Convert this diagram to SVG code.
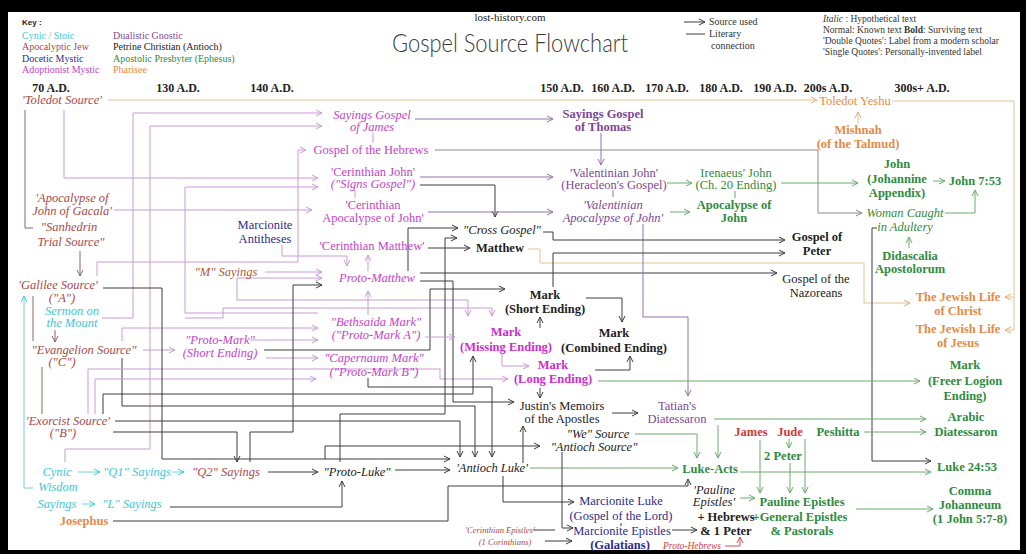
<svg xmlns="http://www.w3.org/2000/svg" width="1026" height="554" viewBox="0 0 1026 554">
<style>
.n{font-family:"Liberation Serif",serif;font-size:12.5px;text-anchor:middle}
.s{font-family:"Liberation Serif",serif;font-size:10px}
.yr{font-family:"Liberation Serif",serif;font-size:12px;font-weight:bold;text-anchor:middle;fill:#222}
.i{font-style:italic}.b{font-weight:bold}
.cy{fill:#40c6d6}.ap{fill:#a84848}.dc{fill:#2c2c8c}.ad{fill:#c244c6}.dg{fill:#7d4796}.pc{fill:#222}.gr{fill:#2e8b3e}.ph{fill:#e38a46}.rd{fill:#d03838}.mg{fill:#cc2ecc}.br{fill:#b05a3a}
.k{stroke:#3c3c3c}.p{stroke:#c99ad6}.t{stroke:#e6c196}.g{stroke:#6aaa6a}.c{stroke:#6ad2e0}.v{stroke:#9470aa}.y{stroke:#8a8a8a}.r{stroke:#cc5050}.bb{stroke:#8c6464}
</style>
<defs>
<marker id="ak" viewBox="0 0 8 8" refX="7" refY="4" markerWidth="8" markerHeight="8" markerUnits="userSpaceOnUse" orient="auto"><path d="M1,1 L7,4 L1,7" fill="none" stroke="#3c3c3c"/></marker>
<marker id="ap" viewBox="0 0 8 8" refX="7" refY="4" markerWidth="8" markerHeight="8" markerUnits="userSpaceOnUse" orient="auto"><path d="M1,1 L7,4 L1,7" fill="none" stroke="#c99ad6"/></marker>
<marker id="at" viewBox="0 0 8 8" refX="7" refY="4" markerWidth="8" markerHeight="8" markerUnits="userSpaceOnUse" orient="auto"><path d="M1,1 L7,4 L1,7" fill="none" stroke="#e6a870"/></marker>
<marker id="ag" viewBox="0 0 8 8" refX="7" refY="4" markerWidth="8" markerHeight="8" markerUnits="userSpaceOnUse" orient="auto"><path d="M1,1 L7,4 L1,7" fill="none" stroke="#6aaa6a"/></marker>
<marker id="ac" viewBox="0 0 8 8" refX="7" refY="4" markerWidth="8" markerHeight="8" markerUnits="userSpaceOnUse" orient="auto"><path d="M1,1 L7,4 L1,7" fill="none" stroke="#40c6d6"/></marker>
<marker id="av" viewBox="0 0 8 8" refX="7" refY="4" markerWidth="8" markerHeight="8" markerUnits="userSpaceOnUse" orient="auto"><path d="M1,1 L7,4 L1,7" fill="none" stroke="#9470aa"/></marker>
<marker id="ay" viewBox="0 0 8 8" refX="7" refY="4" markerWidth="8" markerHeight="8" markerUnits="userSpaceOnUse" orient="auto"><path d="M1,1 L7,4 L1,7" fill="none" stroke="#8a8a8a"/></marker>
<marker id="ar" viewBox="0 0 8 8" refX="7" refY="4" markerWidth="8" markerHeight="8" markerUnits="userSpaceOnUse" orient="auto"><path d="M1,1 L7,4 L1,7" fill="none" stroke="#cc5050"/></marker>
<marker id="ab" viewBox="0 0 8 8" refX="7" refY="4" markerWidth="8" markerHeight="8" markerUnits="userSpaceOnUse" orient="auto"><path d="M1,1 L7,4 L1,7" fill="none" stroke="#8c6464"/></marker>
</defs>
<rect x="0" y="0" width="1026" height="554" fill="#000"/>
<rect x="8" y="12" width="1012" height="538" fill="#fff"/>

<g id="header">
<text x="22" y="25" style="font-family:'Liberation Sans',sans-serif;font-size:8px;font-weight:bold" fill="#222">Key :</text>
<text x="22" y="38.5" class="s cy">Cynic / Stoic</text>
<text x="22" y="50" class="s ap">Apocalyptic Jew</text>
<text x="22" y="61.5" class="s dc">Docetic Mystic</text>
<text x="22" y="73" class="s ad">Adoptionist Mystic</text>
<text x="113" y="38.5" class="s dg">Dualistic Gnostic</text>
<text x="113" y="50" class="s pc">Petrine Christian (Antioch)</text>
<text x="113" y="61.5" class="s gr">Apostolic Presbyter (Ephesus)</text>
<text x="113" y="73" class="s ph">Pharisee</text>
<text x="510" y="21" class="s" style="font-size:11px;text-anchor:middle" fill="#222">lost-history.com</text>
<text x="510" y="52" style="font-family:Lato,'Open Sans',sans-serif;font-weight:300;font-size:25px;text-anchor:middle" textLength="236" lengthAdjust="spacingAndGlyphs" fill="#3a3a3a">Gospel Source Flowchart</text>
<text x="709" y="25" class="s" fill="#333">Source used</text>
<text x="709" y="37" class="s" fill="#333">Literary</text>
<text x="711" y="49" class="s" fill="#333">connection</text>
<g style="font-size:9.5px">
<text x="823" y="22" class="s" style="font-size:9.5px" fill="#333"><tspan font-style="italic">Italic</tspan> : Hypothetical text</text>
<text x="823" y="33" class="s" style="font-size:9.5px" fill="#333">Normal: Known text  <tspan font-weight="bold">Bold</tspan>: Surviving text</text>
<text x="823" y="44" class="s" style="font-size:9.5px" fill="#333">'Double Quotes': Label from a modern scholar</text>
<text x="823" y="55" class="s" style="font-size:9.5px" fill="#333">'Single Quotes': Personally-invented label</text>
</g>
<text x="51" y="92" class="yr">70 A.D.</text>
<text x="178" y="92" class="yr">130 A.D.</text>
<text x="272" y="92" class="yr">140 A.D.</text>
<text x="562" y="92" class="yr">150 A.D.</text>
<text x="613" y="92" class="yr">160 A.D.</text>
<text x="667" y="92" class="yr">170 A.D.</text>
<text x="721" y="92" class="yr">180 A.D.</text>
<text x="775" y="92" class="yr">190 A.D.</text>
<text x="828" y="92" class="yr">200s A.D.</text>
<text x="922" y="92" class="yr">300s+ A.D.</text>
</g>

<g id="connectors" fill="none" stroke-width="1">
<path class="k" d="M684,22 H705" marker-end="url(#ak)"/>
<path class="k" d="M686,34 H705"/>
<path class="t" d="M108,100 H817" marker-end="url(#at)"/>
<path class="t" d="M892,101 H1014 V297 H1005" marker-end="url(#at)"/>
<path class="t" d="M1014,297 V330 H1005" marker-end="url(#at)"/>
<path class="t" d="M858,124 V112" marker-end="url(#at)"/>
<path class="t" d="M528,249 H540 V263 H864 V303 H910" marker-end="url(#at)"/>
<path class="bb" d="M25,110 V228 H33"/>
<path class="bb" d="M80,251 V276" marker-end="url(#ab)"/>
<path class="c" d="M24,488 V296" marker-end="url(#ac)"/>
<path class="c" d="M24,488 H33"/>
<path class="bb" d="M33,296 V341"/>
<path class="bb" d="M55,330 V342" marker-end="url(#ab)"/>
<path class="bb" d="M42,367 V414"/>
<path class="p" d="M143,350 H175" marker-end="url(#ap)"/>
<path class="p" d="M102,318 H133 V113 H322" marker-end="url(#ap)"/>
<path class="p" d="M65,462 V449 H150 V126 H322" marker-end="url(#ap)"/>
<path class="p" d="M64,110 V178 H318" marker-end="url(#ap)"/>
<path class="p" d="M318,313 H185 V187 H318" marker-end="url(#ap)"/>
<path class="p" d="M114,210 H312" marker-end="url(#ap)"/>
<path class="p" d="M97,276 V262 H298 V150 H306" marker-end="url(#ap)"/>
<path class="p" d="M282,245 V256 H347 V266" marker-end="url(#ap)"/>
<path class="p" d="M265,272 H322" marker-end="url(#ap)"/>
<path class="p" d="M237,300 V278 H322" marker-end="url(#ap)"/>
<path class="p" d="M237,300 H468 V316" marker-end="url(#ap)"/>
<path class="p" d="M185,318 H223 V308 H492 V316" marker-end="url(#ap)"/>
<path class="p" d="M122,341 V328 H318" marker-end="url(#ap)"/>
<path class="k" d="M122,358 V406 H475 V457" marker-end="url(#ak)"/>
<path class="p" d="M250,340 H318" marker-end="url(#ap)"/>
<path class="p" d="M266,358 H318" marker-end="url(#ap)"/>
<path class="k" d="M264,350 H430 V289 H505" marker-end="url(#ak)"/>
<path class="p" d="M88,414 V369 H440 V379 H508" marker-end="url(#ap)"/>
<path class="p" d="M95,414 V379 H316" marker-end="url(#ap)"/>
<path class="k" d="M103,414 V394 H473 V356" marker-end="url(#ak)"/>
<path class="k" d="M115,421 H460 V457" marker-end="url(#ak)"/>
<path class="k" d="M113,432 H237 V462" marker-end="url(#ak)"/>
<path class="k" d="M250,462 V432 H293 V285 H322" marker-end="url(#ak)"/>
<path class="k" d="M103,288 H162 V459 H450" marker-end="url(#ak)"/>
<path class="k" d="M325,459 V446 H540" marker-end="url(#ak)"/>
<path class="c" d="M78,472 H100" marker-end="url(#ac)"/>
<path class="c" d="M172,472 H184" marker-end="url(#ac)"/>
<path class="k" d="M268,472 H318" marker-end="url(#ak)"/>
<path class="k" d="M395,470 H450" marker-end="url(#ak)"/>
<path class="c" d="M82,504 H95" marker-end="url(#ac)"/>
<path class="k" d="M170,507 H342 V481" marker-end="url(#ak)"/>
<path class="k" d="M113,521 H448 V486 H688 V479" marker-end="url(#ak)"/>
<path class="k" d="M340,462 V414 H445 V238 H457" marker-end="url(#ak)"/>
<path class="k" d="M408,271 V228 H458" marker-end="url(#ak)"/>
<path class="k" d="M368,378 V387 H492 V457" marker-end="url(#ak)"/>
<path class="k" d="M420,281 H453 V402 H514" marker-end="url(#ak)"/>
<path class="k" d="M420,273 H777" marker-end="url(#ak)"/>
<path class="p" d="M368,271 V255" marker-end="url(#ap)"/>
<path class="p" d="M368,315 V291" marker-end="url(#ap)"/>
<path class="p" d="M425,337 H455" marker-end="url(#ap)"/>
<path class="k" d="M428,248 H470" marker-end="url(#ak)"/>
<path class="p" d="M373,133 V143"/>
<path class="p" d="M355,190 V198"/>
<path class="v" d="M415,119 H553" marker-end="url(#av)"/>
<path class="v" d="M601,133 V165" marker-end="url(#av)"/>
<path class="v" d="M420,177 H553" marker-end="url(#av)"/>
<path class="k" d="M420,185 H495 V217" marker-end="url(#ak)"/>
<path class="v" d="M428,212 H553" marker-end="url(#av)"/>
<path class="v" d="M613,190 V197"/>
<path class="v" d="M643,224 V317 H688 V396" marker-end="url(#av)"/>
<path class="y" d="M435,150 H818 V213 H862" marker-end="url(#ay)"/>
<path class="g" d="M667,183 H692" marker-end="url(#ag)"/>
<path class="g" d="M735,191 V198"/>
<path class="g" d="M670,212 H690" marker-end="url(#ag)"/>
<path class="g" d="M781,183 H858" marker-end="url(#ag)"/>
<path class="g" d="M933,181 H945" marker-end="url(#ag)"/>
<path class="g" d="M945,213 H975 V190" marker-end="url(#ag)"/>
<path class="g" d="M909,248 V237" marker-end="url(#ag)"/>
<path class="k" d="M877,228 H872 V461 H931" marker-end="url(#ak)"/>
<path class="k" d="M543,232 H553 V240 H785" marker-end="url(#ak)"/>
<path class="k" d="M553,287 V253 H785" marker-end="url(#ak)"/>
<path class="k" d="M540,328 V317" marker-end="url(#ak)"/>
<path class="k" d="M586,298 H622 V322" marker-end="url(#ak)"/>
<path class="k" d="M595,370 H630 V356" marker-end="url(#ak)"/>
<path class="p" d="M502,354 V366 H529" marker-end="url(#ap)"/>
<path class="g" d="M598,381 H920" marker-end="url(#ag)"/>
<path class="k" d="M540,388 V398" marker-end="url(#ak)"/>
<path class="k" d="M523,463 V426" marker-end="url(#ak)"/>
<path class="k" d="M612,413 H638" marker-end="url(#ak)"/>
<path class="g" d="M714,419 H926" marker-end="url(#ag)"/>
<path class="g" d="M530,468 H678" marker-end="url(#ag)"/>
<path class="g" d="M635,434 H697 V458" marker-end="url(#ag)"/>
<path class="g" d="M718,425 V458" marker-end="url(#ag)"/>
<path class="k" d="M562,452 V528 H573" marker-end="url(#ak)"/>
<path class="k" d="M503,476 V502 H574" marker-end="url(#ak)"/>
<path class="k" d="M621,523 V526"/>
<path class="k" d="M533,530 H555"/>
<path class="k" d="M545,541 H572" marker-end="url(#ak)"/>
<path class="k" d="M672,530 H697" marker-end="url(#ak)"/>
<path class="r" d="M725,546 H740 V537" marker-end="url(#ar)"/>
<path class="g" d="M740,498 H755" marker-end="url(#ag)"/>
<path class="g" d="M760,440 V493" marker-end="url(#ag)"/>
<path class="g" d="M789,439 V448" marker-end="url(#ag)"/>
<path class="g" d="M790,463 V493" marker-end="url(#ag)"/>
<path class="g" d="M805,439 V493" marker-end="url(#ag)"/>
<path class="g" d="M740,472 H931" marker-end="url(#ag)"/>
<path class="g" d="M864,432 H926" marker-end="url(#ag)"/>
<path class="g" d="M856,509 H933" marker-end="url(#ag)"/>
</g>

<g id="n-toledot-source"><text x="62" y="104" class="n i ap">'Toledot Source'</text></g>
<g id="n-gacala"><text x="72" y="202" class="n i ap">'Apocalypse of</text><text x="72" y="215" class="n i ap">John of Gacala'</text></g>
<g id="n-sanhedrin"><text x="69" y="231" class="n i ap">"Sanhedrin</text><text x="71" y="246" class="n i ap">Trial Source"</text></g>
<g id="n-galilee"><text x="58" y="289" class="n i ap">'Galilee Source'</text><text x="62" y="302" class="n i ap">("A")</text></g>
<g id="n-sermon"><text x="72" y="315" class="n i cy">Sermon on</text><text x="72" y="327" class="n i cy">the Mount</text></g>
<g id="n-evangelion"><text x="84" y="354" class="n i ap">"Evangelion Source"</text><text x="62" y="366" class="n i ap">("C")</text></g>
<g id="n-exorcist"><text x="68" y="425" class="n i ap">'Exorcist Source'</text><text x="63" y="437" class="n i ap">("B")</text></g>
<g id="n-cynic-wisdom"><text x="57" y="476" class="n i cy">Cynic</text><text x="58" y="491" class="n i cy">Wisdom</text><text x="57" y="508" class="n i cy">Sayings</text></g>
<g id="n-josephus"><text x="84" y="525" class="n b ph">Josephus</text></g>
<g id="n-q1"><text x="137" y="476" class="n i cy">"Q1" Sayings</text></g>
<g id="n-q2"><text x="226" y="476" class="n i ap">"Q2" Sayings</text></g>
<g id="n-l"><text x="132" y="508" class="n i cy">"L" Sayings</text></g>
<g id="n-proto-luke"><text x="357" y="476" class="n i pc">"Proto-Luke"</text></g>
<g id="n-antioch-luke"><text x="492" y="472" class="n i pc">'Antioch Luke'</text></g>
<g id="n-proto-mark"><text x="220" y="344" class="n i ad">"Proto-Mark"</text><text x="220" y="357" class="n i ad">(Short Ending)</text></g>
<g id="n-sayings-james"><text x="372" y="119" class="n i ad">Sayings Gospel</text><text x="372" y="131" class="n i ad">of James</text></g>
<g id="n-hebrews"><text x="371" y="154" class="n ad">Gospel of the Hebrews</text></g>
<g id="n-cerinthian-john"><text x="373" y="176" class="n ad">'Cerinthian John'</text><text x="373" y="188" class="n i ad">("Signs Gospel")</text></g>
<g id="n-cerinthian-apoc"><text x="373" y="209" class="n ad">'Cerinthian</text><text x="373" y="222" class="n ad">Apocalypse of John'</text></g>
<g id="n-marcionite-antitheses"><text x="265" y="229" class="n dc">Marcionite</text><text x="265" y="243" class="n dc">Antitheses</text></g>
<g id="n-cerinthian-matthew"><text x="372" y="250" class="n ad">'Cerinthian Matthew'</text></g>
<g id="n-m-sayings"><text x="226" y="276" class="n i br">"M" Sayings</text></g>
<g id="n-proto-matthew"><text x="377" y="282" class="n i ad">Proto-Matthew</text></g>
<g id="n-bethsaida"><text x="376" y="326" class="n i ad">"Bethsaida Mark"</text><text x="376" y="339" class="n i ad">("Proto-Mark A")</text></g>
<g id="n-capernaum"><text x="374" y="362" class="n i ad">"Capernaum Mark"</text><text x="374" y="376" class="n i ad">("Proto-Mark B")</text></g>
<g id="n-thomas"><text x="603" y="118" class="n b dg">Sayings Gospel</text><text x="603" y="131" class="n b dg">of Thomas</text></g>
<g id="n-valentinian-john"><text x="614" y="177" class="n dg">'Valentinian John'</text><text x="614" y="189" class="n dg">(Heracleon's Gospel)</text></g>
<g id="n-valentinian-apoc"><text x="613" y="209" class="n i dg">'Valentinian</text><text x="613" y="222" class="n i dg">Apocalypse of John'</text></g>
<g id="n-irenaeus"><text x="736" y="177" class="n gr">Irenaeus' John</text><text x="736" y="189" class="n gr">(Ch. 20 Ending)</text></g>
<g id="n-apocalypse-john"><text x="734" y="209" class="n b gr">Apocalypse of</text><text x="734" y="222" class="n b gr">John</text></g>
<g id="n-toledot-yeshu"><text x="855" y="105" class="n ph">Toledot Yeshu</text></g>
<g id="n-mishnah"><text x="858" y="134" class="n b ph">Mishnah</text><text x="858" y="148" class="n b ph">(of the Talmud)</text></g>
<g id="n-john-appendix"><text x="897" y="168" class="n b gr">John</text><text x="897" y="183" class="n b gr">(Johannine</text><text x="897" y="197" class="n b gr">Appendix)</text></g>
<g id="n-john-753"><text x="975" y="185" class="n b gr">John 7:53</text></g>
<g id="n-woman"><text x="905" y="217" class="n i gr">Woman Caught</text><text x="905" y="231" class="n i gr">in Adultery</text></g>
<g id="n-didascalia"><text x="910" y="260" class="n b gr">Didascalia</text><text x="910" y="273" class="n b gr">Apostolorum</text></g>
<g id="n-jewish-christ"><text x="958" y="301" class="n b ph">The Jewish Life</text><text x="958" y="315" class="n b ph">of Christ</text></g>
<g id="n-jewish-jesus"><text x="958" y="333" class="n b ph">The Jewish Life</text><text x="958" y="347" class="n b ph">of Jesus</text></g>
<g id="n-peter"><text x="817" y="241" class="n b pc">Gospel of</text><text x="817" y="255" class="n b pc">Peter</text></g>
<g id="n-nazoreans"><text x="816" y="283" class="n pc">Gospel of the</text><text x="816" y="297" class="n pc">Nazoreans</text></g>
<g id="n-cross"><text x="502" y="234" class="n i pc">"Cross Gospel"</text></g>
<g id="n-matthew"><text x="500" y="252" class="n b pc">Matthew</text></g>
<g id="n-mark-short"><text x="545" y="299" class="n b pc">Mark</text><text x="545" y="313" class="n b pc">(Short Ending)</text></g>
<g id="n-mark-missing"><text x="506" y="336" class="n b mg">Mark</text><text x="506" y="351" class="n b mg">(Missing Ending)</text></g>
<g id="n-mark-combined"><text x="614" y="337" class="n b pc">Mark</text><text x="614" y="352" class="n b pc">(Combined Ending)</text></g>
<g id="n-mark-long"><text x="553" y="369" class="n b mg">Mark</text><text x="553" y="383" class="n b mg">(Long Ending)</text></g>
<g id="n-justin"><text x="562" y="410" class="n pc">Justin's Memoirs</text><text x="562" y="423" class="n pc">of the Apostles</text></g>
<g id="n-tatian"><text x="677" y="410" class="n dg">Tatian's</text><text x="677" y="423" class="n dg">Diatessaron</text></g>
<g id="n-we-source"><text x="598" y="438" class="n i pc">"We" Source</text><text x="594" y="451" class="n i pc">"Antioch Source"</text></g>
<g id="n-luke-acts"><text x="710" y="473" class="n b gr">Luke-Acts</text></g>
<g id="n-pauline-q"><text x="714" y="494" class="n i pc">'Pauline</text><text x="714" y="506" class="n i pc">Epistles'</text></g>
<g id="n-hebrews-peter"><text x="726" y="521" class="n b pc">+ Hebrews</text><text x="726" y="535" class="n b pc">&amp; 1 Peter</text></g>
<g id="n-marcionite-luke"><text x="621" y="505" class="n dc">Marcionite Luke</text><text x="621" y="520" class="n dc">(Gospel of the Lord)</text></g>
<g id="n-marcionite-epistles"><text x="622" y="535" class="n dc">Marcionite Epistles</text><text x="620" y="549" class="n b dc">(Galatians)</text></g>
<g id="n-cerinthian-epistles"><text x="500" y="533" class="n i ap" style="font-size:8.5px">'Cerinthian Epistles'</text><text x="505" y="545" class="n i ap" style="font-size:8.5px">(1 Corinthians)</text></g>
<g id="n-proto-hebrews"><text x="692" y="549" class="n i rd" style="font-size:9.5px">Proto-Hebrews</text></g>
<g id="n-james"><text x="751" y="436" class="n b rd">James</text></g>
<g id="n-jude"><text x="790" y="436" class="n b rd">Jude</text></g>
<g id="n-peshitta"><text x="838" y="436" class="n b gr">Peshitta</text></g>
<g id="n-2peter"><text x="783" y="460" class="n b gr">2 Peter</text></g>
<g id="n-pauline"><text x="802" y="506" class="n b gr">Pauline Epistles</text><text x="800" y="521" class="n b gr">+General Epistles</text><text x="802" y="535" class="n b gr">&amp; Pastorals</text></g>
<g id="n-freer"><text x="965" y="369" class="n b gr">Mark</text><text x="965" y="385" class="n b gr">(Freer Logion</text><text x="965" y="400" class="n b gr">Ending)</text></g>
<g id="n-arabic"><text x="966" y="421" class="n b gr">Arabic</text><text x="966" y="436" class="n b gr">Diatessaron</text></g>
<g id="n-luke-2453"><text x="967" y="471" class="n b gr">Luke 24:53</text></g>
<g id="n-comma"><text x="970" y="495" class="n b gr">Comma</text><text x="970" y="509" class="n b gr">Johanneum</text><text x="970" y="523" class="n b gr">(1 John 5:7-8)</text></g>
</svg>
